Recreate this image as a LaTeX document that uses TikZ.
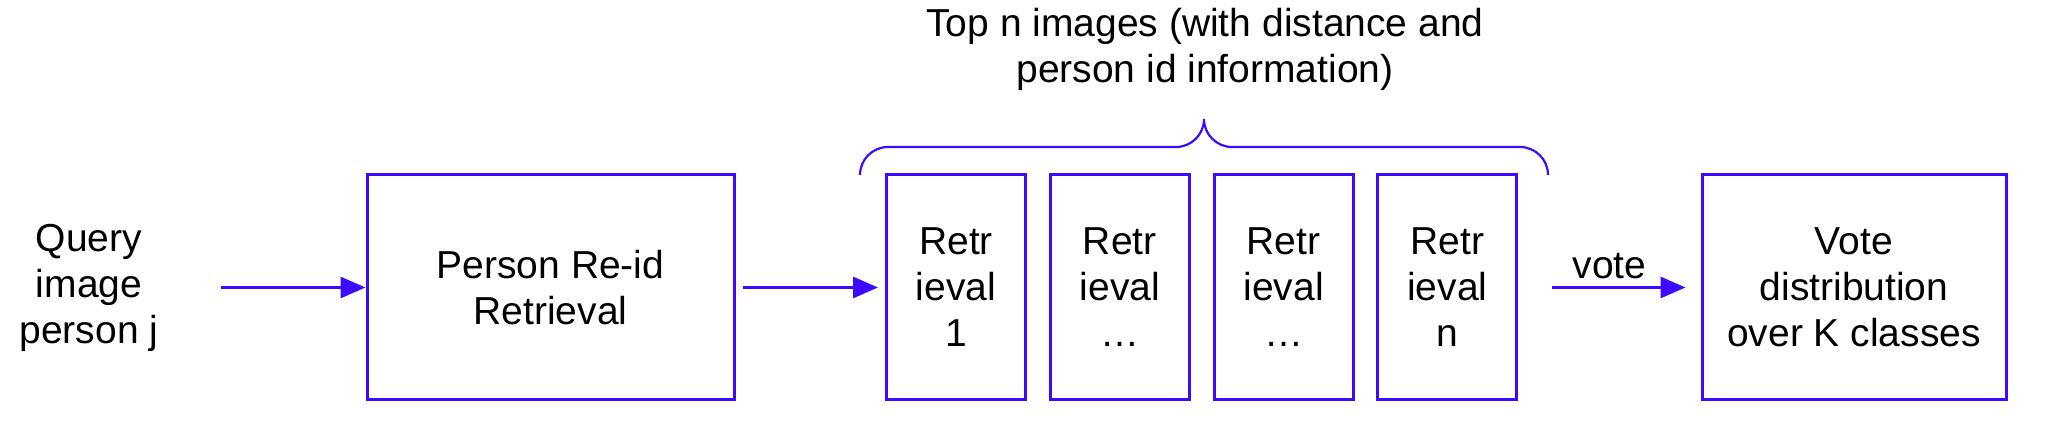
\documentclass[tikz,border=0pt]{standalone}
\usepackage{fontspec}
\setmainfont{Liberation Sans}
\usepackage{tikz}
\usetikzlibrary{arrows.meta}
\definecolor{vblue}{RGB}{60,10,255}
\tikzstyle{arrow} = [line width=1.5pt,draw=vblue,-{Triangle[length=12.5pt,width=10.5pt]}]
\tikzstyle{box} = [draw=vblue,line width=1.5pt,align=center,font=\fontsize{19.5pt}{23pt}\selectfont]
\tikzstyle{txt} = [align=center,font=\fontsize{19.5pt}{23pt}\selectfont]
\tikzstyle{brace} = [draw=vblue,line width=1.1pt]

\begin{document}
\begin{tikzpicture}[x=0.5pt,y=0.5pt]
\useasboundingbox (0,0) rectangle (2055,437);

\node[txt] (query) at (89,149.5) {Query\\image\\person j};
\node[box,minimum width=183.5pt,minimum height=112.5pt] (reid) at (550.5,149.5) {Person Re-id\\Retrieval};

\foreach \n/\lab in {1/1,2/{\dots},3/{\dots},4/n}
{
\node[box,minimum width=69.5pt,minimum height=112.5pt] (ret\n) at (956+163.8*\n-163.8,149.5) {Retr\\ieval\\\lab};
}

\node[box,minimum width=152pt,minimum height=112.5pt] (vote) at (1854,149.5) {Vote\\distribution\\over K classes};
\node[txt] (topn) at (1205,388) {Top n images (with distance and\\person id information)};

% brace over the retrievals
\draw[brace] (860,262) arc[start angle=180,end angle=90,radius=28] -- (1176,290)
 arc[start angle=270,end angle=360,radius=28] arc[start angle=180,end angle=270,radius=28]
 -- (1520,290) arc[start angle=90,end angle=0,radius=28];

\draw[arrow,shorten <=28pt] (query) -- (reid);
\draw[arrow,shorten <=3.5pt,shorten >=3.5pt] (reid) -- (ret1);
\draw[arrow,shorten <=17pt,shorten >=7.5pt] (ret4) -- node[above,font=\fontsize{19.5pt}{23pt}\selectfont] (votelab) {vote} (vote);

\end{tikzpicture}
\end{document}
